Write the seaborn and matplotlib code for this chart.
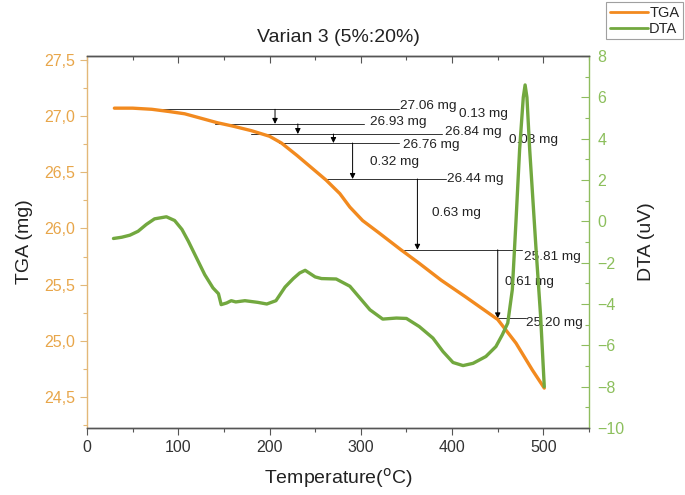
import numpy as np
import pandas as pd
import matplotlib
matplotlib.use("Agg")
import matplotlib.pyplot as plt
from matplotlib.ticker import MultipleLocator, FuncFormatter, NullFormatter
from matplotlib.lines import Line2D
import seaborn as sns

# ---- data ----
tga_temp = [30, 50, 71, 90, 107, 125, 143, 160, 180, 200, 213, 230, 246, 262, 277,
            288, 302, 320, 344, 364, 388, 415, 450, 470, 488, 501]
tga_mass = [27.07, 27.07, 27.06, 27.04, 27.02, 26.98, 26.94, 26.91, 26.87, 26.82, 26.76,
            26.65, 26.54, 26.43, 26.31, 26.19, 26.07, 25.96, 25.81, 25.69, 25.54, 25.39,
            25.19, 24.98, 24.74, 24.58]

dta_temp = [29, 38, 47, 56, 65, 74, 87, 96, 104, 111, 120, 129, 138, 144, 147, 153, 158,
            163, 173, 187, 197, 207, 217, 226, 233, 239, 250, 257, 273, 288, 299, 310,
            324, 339, 350, 364, 379, 390, 401, 412, 423, 437, 448, 455, 461, 466, 470,
            474, 478, 480, 482, 485, 492, 497, 501]
dta_val = [-0.83, -0.77, -0.67, -0.48, -0.15, 0.12, 0.22, 0.04, -0.39, -0.96, -1.77,
           -2.58, -3.22, -3.5, -4.03, -3.95, -3.84, -3.9, -3.84, -3.92, -4.0, -3.84,
           -3.18, -2.77, -2.5, -2.37, -2.69, -2.77, -2.79, -3.14, -3.71, -4.28, -4.73,
           -4.68, -4.70, -5.09, -5.65, -6.3, -6.83, -6.98, -6.87, -6.54, -6.06, -5.49,
           -4.92, -3.3, 0.0, 3.49, 6.0, 6.6, 6.0, 3.49, -1.36, -4.6, -8.0]

# mass levels (annotation lines) and steps
levels = [27.06, 26.93, 26.84, 26.76, 26.44, 25.81, 25.20]
level_labels = ["27.06 mg", "26.93 mg", "26.84 mg", "26.76 mg", "26.44 mg", "25.81 mg", "25.20 mg"]
level_start_T = [60, 140, 180, 210, 260, 345, 449]
level_end_T = [342, 304, 389, 342, 393, 477, 481]

arrow_T = [206, 231, 270, 291, 362, 450]
arrow_from = [27.06, 26.93, 26.84, 26.76, 26.44, 25.81]
arrow_to = [26.93, 26.84, 26.76, 26.44, 25.81, 25.20]
loss_labels = ["0.13 mg", "0.08 mg", "0.32 mg", "0.63 mg", "0.61 mg"]

# label layout (data coords of TGA axis)
level_label_xy = [(342.5, 27.09), (309.6, 26.945), (391.7, 26.855), (345.7, 26.745),
                  (393.9, 26.437), (479.2, 25.75), (481.4, 25.16)]
loss_label_xy = [(408, 27.015), (462.8, 26.79), (309.6, 26.595), (377.5, 26.14),
                 (458.4, 25.52)]

# ---- style ----
sns.set_style("ticks")
plt.rcParams["font.family"] = ["Liberation Sans", "DejaVu Sans"]

C_TGA = "#F28A1F"
C_DTA = "#72A83F"
C_TGA_TICK = "#E8A64A"
C_DTA_TICK = "#8CBF5C"
C_TGA_SPINE = "#E3B878"
C_DTA_SPINE = "#8FBD5F"
C_FRAME = "#555555"

fig = plt.figure(figsize=(6.85, 4.95), dpi=100)
ax = fig.add_axes([87 / 685, 1 - 428 / 495, (589 - 87) / 685, (428 - 56) / 495])
ax2 = ax.twinx()

df_tga = pd.DataFrame({"T": tga_temp, "m": tga_mass})
df_dta = pd.DataFrame({"T": dta_temp, "d": dta_val})

sns.lineplot(data=df_tga, x="T", y="m", ax=ax, color=C_TGA, lw=2.4, sort=False,
             estimator=None, zorder=3)
sns.lineplot(data=df_dta, x="T", y="d", ax=ax2, color=C_DTA, lw=2.4, sort=False,
             estimator=None, zorder=3)

ax.set_xlim(0, 550)
ax.set_ylim(24.225, 27.534)
ax2.set_ylim(-10, 8)

# annotation lines
for lv, s, e in zip(levels, level_start_T, level_end_T):
    ax.plot([s, e], [lv, lv], color="#333333", lw=0.7, zorder=2)
for t, a, b in zip(arrow_T, arrow_from, arrow_to):
    ax.annotate("", xy=(t, b), xytext=(t, a),
                arrowprops=dict(arrowstyle="-|>", color="black", lw=0.7,
                                mutation_scale=8, shrinkA=0, shrinkB=0), zorder=2)
for lab, (x, y) in zip(level_labels, level_label_xy):
    ax.text(x, y, lab, fontsize=9.7, color="#222222", ha="left", va="center", zorder=4)
for lab, (x, y) in zip(loss_labels, loss_label_xy):
    ax.text(x, y, lab, fontsize=9.7, color="#222222", ha="left", va="center", zorder=4)

# axes styling
ax.set_xlabel("Temperature($^{\\mathrm{o}}$C)", fontsize=14, color="#222222", labelpad=8)
ax.set_ylabel("TGA (mg)", fontsize=14, color="#222222", labelpad=8)
ax2.set_ylabel("DTA (uV)", fontsize=14, color="#222222", labelpad=10)
ax.set_title("Varian 3 (5%:20%)", fontsize=14, color="#222222", pad=10)

ax.xaxis.set_major_locator(MultipleLocator(100))
ax.xaxis.set_minor_locator(MultipleLocator(50))
ax.yaxis.set_major_locator(MultipleLocator(0.5))
ax.yaxis.set_minor_locator(MultipleLocator(0.25))
ax.yaxis.set_major_formatter(FuncFormatter(lambda v, p: f"{v:.1f}".replace(".", ",")))
ax2.yaxis.set_major_locator(MultipleLocator(2))
ax2.yaxis.set_minor_locator(MultipleLocator(1))
ax2.yaxis.set_major_formatter(FuncFormatter(lambda v, p: f"{v:.0f}".replace("-", "\u2212")))

ax.tick_params(axis="x", which="both", direction="out", colors="#555555", labelcolor="#333333",
               labelsize=11.5, width=0.8, top=False)
ax.tick_params(axis="x", which="major", length=5)
ax.tick_params(axis="x", which="minor", length=3)

# top ticks pointing inward
sec = ax.secondary_xaxis("top")
sec.xaxis.set_major_locator(MultipleLocator(100))
sec.xaxis.set_minor_locator(MultipleLocator(50))
sec.xaxis.set_major_formatter(NullFormatter())
sec.tick_params(axis="x", which="both", direction="in", colors="#555555", width=0.8)
sec.tick_params(axis="x", which="major", length=5)
sec.tick_params(axis="x", which="minor", length=3)
sec.spines["top"].set_color(C_FRAME)

ax.tick_params(axis="y", which="both", direction="out", colors=C_TGA_SPINE,
               labelcolor=C_TGA_TICK, labelsize=11.5, width=0.8)
ax.tick_params(axis="y", which="major", length=5)
ax.tick_params(axis="y", which="minor", length=3)
ax2.tick_params(axis="y", which="both", direction="in", colors=C_DTA_SPINE,
                labelcolor=C_DTA_TICK, labelsize=11.5, width=0.8, pad=6)
ax2.tick_params(axis="y", which="major", length=6)
ax2.tick_params(axis="y", which="minor", length=3)

for sp in ["top", "bottom"]:
    ax.spines[sp].set_color(C_FRAME)
    ax2.spines[sp].set_color(C_FRAME)
ax.spines["left"].set_color(C_TGA_SPINE)
ax2.spines["right"].set_color(C_DTA_SPINE)
ax2.spines["left"].set_visible(False)
ax.spines["right"].set_visible(False)
for a in (ax, ax2):
    for sp in a.spines.values():
        sp.set_linewidth(1.0)

handles = [Line2D([], [], color=C_TGA, lw=2), Line2D([], [], color=C_DTA, lw=2)]
leg = fig.legend(handles, ["TGA", "DTA"], loc="upper right",
                 bbox_to_anchor=(683 / 685, 1 - 2 / 495), fontsize=10.5, frameon=True,
                 fancybox=False, edgecolor="#888888", handlelength=2.6, handletextpad=0.1,
                 borderpad=0.25, labelspacing=0.15, borderaxespad=0)
leg.get_frame().set_linewidth(0.8)

fig.savefig("out.png", dpi=100)
